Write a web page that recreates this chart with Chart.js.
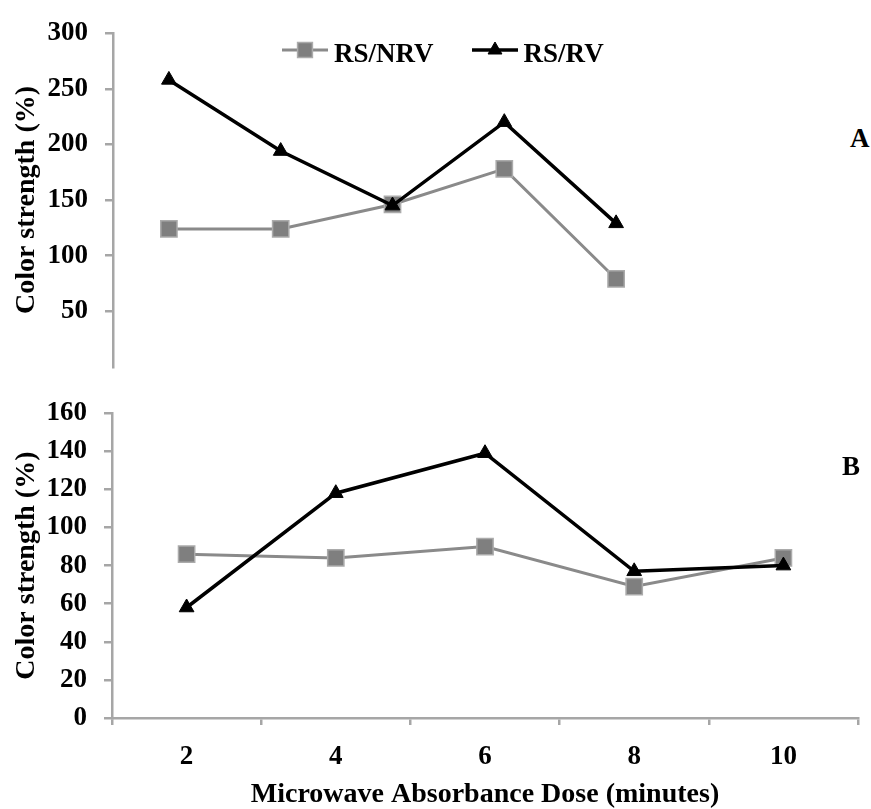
<!DOCTYPE html>
<html>
<head>
<meta charset="utf-8">
<script src="https://cdn.jsdelivr.net/npm/chart.js@4.4.0/dist/chart.umd.min.js"></script>
<style>
    html, body { margin: 0; padding: 0; background: #fff; }
    #painel { position: relative; width: 871px; height: 809px; overflow: hidden; background: #fff;
              font-family: "Liberation Serif", "Times New Roman", serif; font-weight: bold; color: #000; }
    #box-a { position: absolute; left: 0; top: 0; width: 685px; height: 400px; }
    #box-b { position: absolute; left: 0; top: 380px; width: 871px; height: 429px; }
    .letra { position: absolute; font-size: 27px; line-height: 27px; }
    #legenda { position: absolute; left: 281px; top: 38px; display: flex; align-items: center; }
    #legenda .item { display: flex; align-items: center; }
    #legenda .item + .item { margin-left: 37px; }
    #legenda span { font-size: 27px; line-height: 30px; margin-left: 5px; }
</style>
</head>
<body>
<div id="painel">
    <div id="box-b"><canvas id="graficoB"></canvas></div>
    <div id="box-a"><canvas id="graficoA"></canvas></div>
    <div id="legenda"></div>
    <div class="letra" style="left:850px; top:125px;">A</div>
    <div class="letra" style="left:842px; top:453px;">B</div>
</div>

<script>
// dados
const doses = ['2', '4', '6', '8', '10'];
const nrvA = [124, 124, 146, 178, 79];
const rvA = [258, 194, 145, 220, 129];
const nrvB = [86, 84, 90, 69, 84];
const rvB = [58, 118, 139, 77, 80];
const ticksA = [0, 50, 100, 150, 200, 250, 300];
const ticksB = [0, 20, 40, 60, 80, 100, 120, 140, 160];

const cinzaEixo = '#a6a6a6';

Chart.defaults.font = { family: '"Liberation Serif", "Times New Roman", serif', size: 27, weight: 'bold' };
Chart.defaults.color = '#000';

function seriesDe(nrv, rv) {
    return [{
        label: 'RS/NRV',
        data: nrv,
        borderColor: '#8a8a8a',
        borderWidth: 3,
        pointStyle: 'rect',
        pointRadius: 11.5,
        pointBackgroundColor: '#7f7f7f',
        pointBorderColor: '#ababab',
        pointBorderWidth: 1.5,
        order: 2
    }, {
        label: 'RS/RV',
        data: rv,
        borderColor: '#000',
        borderWidth: 3.5,
        pointStyle: 'triangle',
        pointRadius: 8.5,
        pointBackgroundColor: '#000',
        pointBorderColor: '#000',
        pointBorderWidth: 1,
        order: 1
    }];
}

function eixoY(valores, max, esconderZero) {
    return {
        min: 0,
        max: max,
        afterBuildTicks: function (s) { s.ticks = valores.map(v => ({ value: v })); },
        afterFit: function (s) { s.width = esconderZero ? 113 : 112; },
        ticks: {
            padding: 17,
            callback: function (v) { return (esconderZero && v === 0) ? '' : v; }
        },
        grid: {
            drawOnChartArea: false,
            tickLength: 8,
            lineWidth: 2.5,
            color: function (c) { return (esconderZero && c.tick && c.tick.value === 0) ? 'rgba(0,0,0,0)' : cinzaEixo; }
        },
        border: { display: true, color: cinzaEixo, width: 2.5 },
        title: {
            display: true,
            text: 'Color strength (%)',
            font: { size: 28 },
            padding: { top: 10, bottom: 0 }
        }
    };
}

// Painel A
const graficoA = new Chart(document.getElementById('graficoA'), {
    type: 'line',
    data: { labels: doses, datasets: seriesDe(nrvA, rvA) },
    options: {
        responsive: true,
        maintainAspectRatio: false,
        animation: false,
        layout: { padding: { top: 24, right: 13, bottom: 3, left: 0 } },
        plugins: { legend: { display: false }, tooltip: { enabled: false } },
        scales: {
            x: { display: false, offset: true },
            y: eixoY(ticksA, 300, true)
        }
    }
});

// Painel B
new Chart(document.getElementById('graficoB'), {
    type: 'line',
    data: { labels: doses, datasets: seriesDe(nrvB, rvB) },
    options: {
        responsive: true,
        maintainAspectRatio: false,
        animation: false,
        layout: { padding: { top: 24, right: 6, bottom: 0, left: 0 } },
        plugins: { legend: { display: false }, tooltip: { enabled: false } },
        scales: {
            x: {
                offset: true,
                afterFit: function (s) { s.height = 91; s.paddingLeft = 0; s.paddingRight = 0; },
                ticks: { padding: 16 },
                grid: { offset: true, drawOnChartArea: false, tickLength: 7, lineWidth: 2.5, color: cinzaEixo },
                border: { display: true, color: cinzaEixo, width: 2.5 },
                title: {
                    display: true,
                    text: 'Microwave Absorbance Dose (minutes)',
                    font: { size: 28, lineHeight: 1.0 },
                    padding: 0
                }
            },
            y: eixoY(ticksB, 160, false)
        }
    }
});

// legenda em HTML, gerada a partir do painel A
function montarLegenda(chart) {
    const caixa = document.getElementById('legenda');
    const itens = chart.options.plugins.legend.labels.generateLabels(chart)
        .sort((a, b) => a.datasetIndex - b.datasetIndex);
    itens.forEach(function (it) {
        const ds = chart.data.datasets[it.datasetIndex];
        const item = document.createElement('div');
        item.className = 'item';
        const cv = document.createElement('canvas');
        cv.width = 48; cv.height = 30;
        const ctx = cv.getContext('2d');
        ctx.strokeStyle = ds.borderColor;
        ctx.lineWidth = ds.borderWidth;
        ctx.beginPath(); ctx.moveTo(1, 12); ctx.lineTo(47, 12); ctx.stroke();
        ctx.fillStyle = ds.pointBackgroundColor;
        ctx.strokeStyle = ds.pointBorderColor;
        ctx.lineWidth = ds.pointBorderWidth;
        Chart.helpers.drawPoint(ctx, {
            pointStyle: ds.pointStyle,
            radius: ds.pointStyle === 'rect' ? 10.5 : 8,
            rotation: 0,
            borderWidth: ds.pointBorderWidth
        }, 24, 12);
        const txt = document.createElement('span');
        txt.textContent = it.text;
        item.appendChild(cv);
        item.appendChild(txt);
        caixa.appendChild(item);
    });
}
montarLegenda(graficoA);
</script>
</body>
</html>
